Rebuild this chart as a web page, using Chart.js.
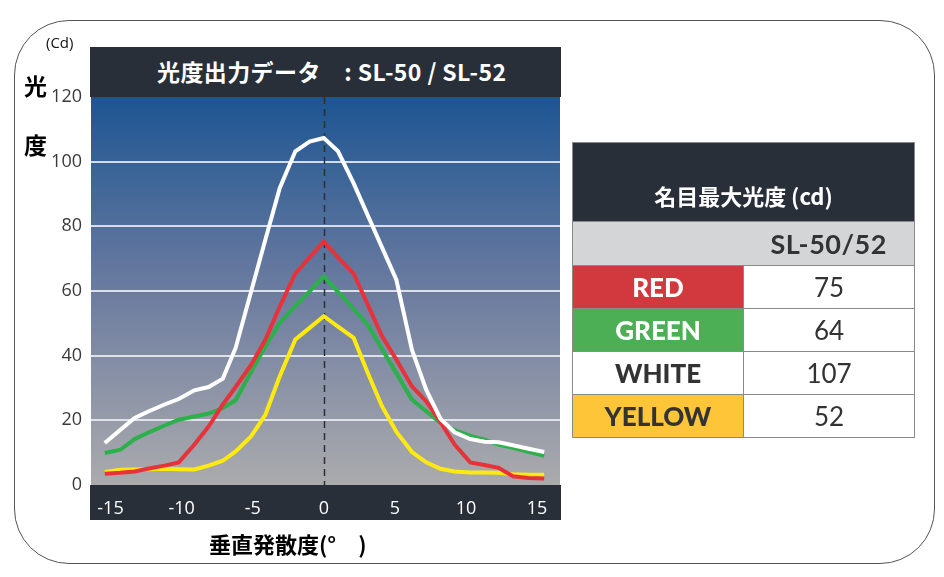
<!DOCTYPE html>
<html>
<head>
<meta charset="utf-8">
<script src="https://cdn.jsdelivr.net/npm/chart.js@4.4.1/dist/chart.umd.min.js"></script>
<style>
  html, body { margin: 0; padding: 0; background: #fff; }
  body { width: 944px; height: 577px; position: relative; overflow: hidden; font-family: "Noto Sans CJK JP", "Noto Sans", sans-serif; }
  .frame { position: absolute; left: 14px; top: 20px; width: 919px; height: 542px; border: 1px solid #555; border-radius: 55px; }
  #chartBox { position: absolute; left: 0; top: 0; width: 600px; height: 577px; }
  .head { position: absolute; left: 90px; top: 47px; width: 471px; height: 50px; background: #292f38; }
  .head span { position: absolute; left: 67px; top: 9px; color: #fff; font-weight: bold; font-size: 23px; letter-spacing: 0.4px; white-space: pre; line-height: 30px; }
  .unit { position: absolute; left: 46px; top: 32px; font-size: 15px; color: #111; font-family: "Open Sans", sans-serif; }
  .ylab { position: absolute; left: 24px; font-size: 23px; font-weight: bold; color: #000; line-height: 24px; }
  .xlab { position: absolute; left: 209px; top: 527px; font-size: 22px; font-weight: bold; color: #000; white-space: pre; }
  table { position: absolute; left: 572px; top: 142px; border-collapse: collapse; }
  td { border: 1px solid #8a8a8a; padding: 0; text-align: center; }
  .th { background: #292f38; color: #fff; height: 78px; font-weight: bold; font-size: 22px; vertical-align: bottom; }
  .th div { padding-bottom: 10px; }
  .sub { background: #d4d5d7; height: 43px; font-family: Lato, sans-serif; font-weight: bold; font-size: 27px; color: #333; letter-spacing: 0.5px; }
  .name { width: 170px; height: 42px; font-family: Lato, sans-serif; font-weight: 900; font-size: 26px; }
  .val { width: 170px; font-family: Lato, sans-serif; font-size: 26px; color: #333; }
</style>
</head>
<body>
<div class="frame"></div>
<div id="chartBox"><canvas id="lum" width="600" height="577"></canvas></div>
<div class="head"><span>光度出力データ　: SL-50 / SL-52</span></div>
<div class="unit">(Cd)</div>
<div class="ylab" style="top:73px">光</div>
<div class="ylab" style="top:132px">度</div>
<div class="xlab">垂直発散度(°　)</div>

<table id="maxTable">
  <tr><td class="th" colspan="2"><div>名目最大光度 (cd)</div></td></tr>
  <tr><td class="sub" style="border-right:none"></td><td class="sub" style="border-left:none">SL-50/52</td></tr>
</table>

<script>
const angles = [-15.4, -14.3, -13.3, -12.3, -11.2, -10.2, -9.1, -8.1, -7.1, -6.2, -5.1, -4.1, -3.1, -2.0, -1.0, 0,
  1.0, 2.1, 3.1, 4.1, 5.1, 6.2, 7.2, 8.2, 9.2, 10.3, 11.3, 12.3, 13.3, 14.4, 15.5];

const whiteVals  = [13.0, 17.1, 20.7, 22.8, 24.9, 26.6, 29.3, 30.3, 32.9, 42.4, 60, 76, 91.8, 103.2, 106.2, 107.3,
  103.2, 93.3, 83.3, 73.4, 63.5, 41.8, 29.5, 20.5, 16.3, 14.2, 13.4, 13.2, 12.3, 11.2, 10.2];
const redVals    = [3.5, 3.8, 4.2, 5.1, 6.0, 7.0, 12.5, 18.1, 24.9, 30.3, 37.2, 45, 55.2, 65.4, 70.4, 75.3,
  70.4, 65.4, 55.7, 46, 38.8, 30.5, 25.9, 19.5, 12.5, 7.0, 6.2, 5.3, 2.7, 2.2, 2.0];
const greenVals  = [9.9, 10.9, 14.2, 16.3, 18.4, 20.2, 21.2, 22.1, 23.8, 26.2, 35.1, 42.9, 50.1, 55.4, 59.9, 64.5,
  59.7, 54.4, 49.5, 42, 34.6, 26.4, 22.8, 19.2, 17, 15.2, 14, 12.5, 11.5, 10.3, 9.0];
const yellowVals = [4.0, 4.7, 4.8, 4.9, 5.0, 4.9, 4.8, 6.0, 7.5, 10.4, 15.1, 21.8, 33.6, 45, 48.6, 52.2,
  49, 45.5, 34.6, 24.3, 16.5, 10.2, 7.0, 5.0, 4.2, 3.9, 3.9, 3.8, 3.3, 3.2, 3.2];

const xTicks = [-15, -10, -5, 0, 5, 10, 15];

// table: nominal max luminous intensity
const colourNames = ['RED', 'GREEN', 'WHITE', 'YELLOW'];
const maxValues = [75, 64, 107, 52];
const nameBg = ['#d2393f', '#4caf55', '#ffffff', '#fdc537'];
const nameFg = ['#ffffff', '#ffffff', '#333333', '#333333'];

const table = document.getElementById('maxTable');
colourNames.forEach((n, i) => {
  const tr = document.createElement('tr');
  tr.innerHTML = `<td class="name" style="background:${nameBg[i]};color:${nameFg[i]}">${n}</td><td class="val">${maxValues[i]}</td>`;
  table.appendChild(tr);
});

const toPoints = (vals) => vals.map((v, i) => ({ x: angles[i], y: v }));

// gradient plot background + dark x-axis band
const backdrop = {
  id: 'backdrop',
  beforeDraw(chart) {
    const { ctx, chartArea: a } = chart;
    ctx.save();
    const g = ctx.createLinearGradient(0, a.top, 0, a.bottom);
    g.addColorStop(0, '#1d5592');
    g.addColorStop(0.5, '#6c7ca0');
    g.addColorStop(1, '#ababad');
    ctx.fillStyle = g;
    ctx.fillRect(a.left, a.top, a.right - a.left, a.bottom - a.top);
    ctx.fillStyle = '#292f38';
    ctx.fillRect(a.left - 1, a.bottom, a.right - a.left + 2, 35);
    ctx.restore();
  },
  beforeDatasetsDraw(chart) {
    const { ctx, chartArea: a, scales } = chart;
    const x0 = Math.round(scales.x.getPixelForValue(0)) + 0.5;
    ctx.save();
    ctx.strokeStyle = '#2b2f36';
    ctx.lineWidth = 1.5;
    ctx.setLineDash([7, 5]);
    ctx.beginPath();
    ctx.moveTo(x0, a.top);
    ctx.lineTo(x0, a.bottom);
    ctx.stroke();
    ctx.restore();
  }
};

const lineSet = (label, vals, color) => ({
  label, data: toPoints(vals), borderColor: color, borderWidth: 4,
  pointRadius: 0, tension: 0, fill: false, borderJoinStyle: 'miter'
});

new Chart(document.getElementById('lum'), {
  type: 'line',
  data: {
    datasets: [
      lineSet('WHITE', whiteVals, '#ffffff'),
      lineSet('RED', redVals, '#e8323a'),
      lineSet('GREEN', greenVals, '#2bb04a'),
      lineSet('YELLOW', yellowVals, '#ffea10')
    ]
  },
  options: {
    responsive: false,
    animation: false,
    layout: { padding: { left: 0, top: 97, right: 40, bottom: 57 } },
    plugins: { legend: { display: false }, tooltip: { enabled: false } },
    scales: {
      x: {
        type: 'linear',
        min: -16.37,
        max: 16.61,
        afterBuildTicks: (s) => { s.ticks = xTicks.map(v => ({ value: v })); },
        afterFit: (s) => { s.height = 35; },
        grid: { display: false },
        border: { display: false },
        ticks: { color: '#ffffff', padding: 5, font: { family: 'Open Sans', size: 18 } }
      },
      y: {
        min: 0,
        max: 120,
        afterFit: (s) => { s.width = 91; },
        grid: {
          drawTicks: false,
          lineWidth: 2,
          color: (c) => (c.tick.value === 0 || c.tick.value === 120) ? 'rgba(0,0,0,0)' : 'rgba(232,234,240,0.9)'
        },
        border: { display: false },
        ticks: { stepSize: 20, color: '#3a3a3a', padding: 9, font: { family: 'Open Sans', size: 18 } }
      }
    }
  },
  plugins: [backdrop]
});
</script>
</body>
</html>
